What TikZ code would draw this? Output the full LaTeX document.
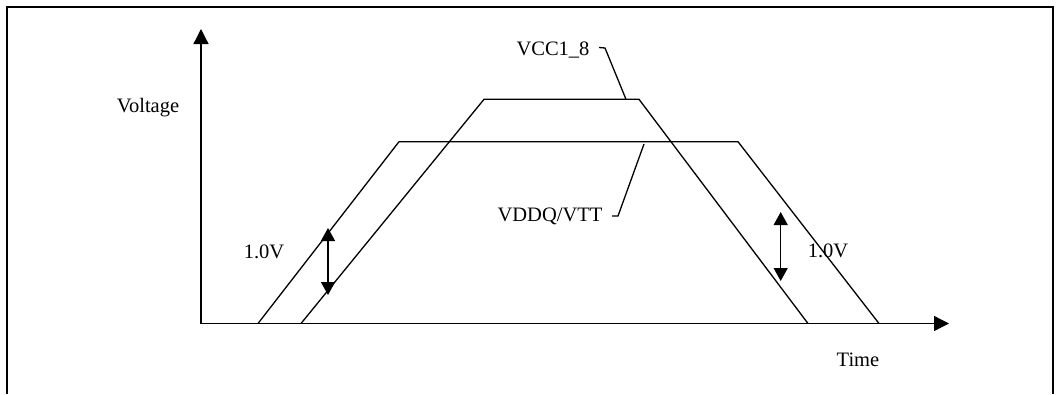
\documentclass[tikz,border=0pt]{standalone}
\usepackage{fontspec}
\setmainfont{Liberation Serif}
\usetikzlibrary{arrows.meta}
\begin{document}
\begin{tikzpicture}[x=1pt,y=-1pt,
  thinline/.style={line width=1.3pt,black},
  axisarrow/.style={thinline,-{Triangle[width=15pt,length=15pt]}},
  dblarrow/.style={thinline,{Triangle[width=14pt,length=13pt]}-{Triangle[width=14pt,length=13pt]}},
  lbl/.style={font=\fontsize{20.5}{23}\selectfont,inner sep=0pt}]
\useasboundingbox (0,0) rectangle (1060,394);
\fill[white] (0,0) rectangle (1060,394);
% frame
\draw[line width=2.4pt] (7,394) -- (7,7) -- (1053,7) -- (1053,394);
% axes
\coordinate (O) at (201,323.5);
\coordinate (ytip) at (201,29);
\coordinate (xtip) at (949,323.5);
\draw[axisarrow] (O) -- (ytip);
\draw[axisarrow] (O) -- (xtip);
% VDDQ/VTT trapezoid
\coordinate (d1) at (258,323.5);
\coordinate (d2) at (399,141.7);
\coordinate (d3) at (738,141.7);
\coordinate (d4) at (879,323.5);
\draw[thinline,line join=miter] (d1) -- (d2) -- (d3) -- (d4);
% VCC1_8 trapezoid
\coordinate (c1) at (301,323.5);
\coordinate (c2) at (484,99.3);
\coordinate (c3) at (639,99.3);
\coordinate (c4) at (808,323.5);
\draw[thinline,line join=miter] (c1) -- (c2) -- (c3) -- (c4);
% labels
\node[lbl] (volt) at (148,108) {Voltage};
\node[lbl] (time) at (858,360) {Time};
\node[lbl] (vcc) at (553,50) {VCC1\_8};
\node[lbl] (vddq) at (550,216) {VDDQ/VTT};
\node[lbl] (vl) at (264,252) {1.0V};
\node[lbl] (vr) at (828,251) {1.0V};
% leaders
\coordinate (l1a) at (599,47.5);
\coordinate (l1b) at (605,48);
\coordinate (l1c) at (626,99.3);
\draw[thinline] (l1a) -- (l1b) -- (l1c);
\coordinate (l2a) at (612,216);
\coordinate (l2b) at (618,216);
\coordinate (l2c) at (644,144);
\draw[thinline] (l2a) -- (l2b) -- (l2c);
% 1.0V double arrows
\coordinate (al1) at (328,228);
\coordinate (al2) at (328,295);
\draw[dblarrow] (al1) -- (al2);
\coordinate (ar1) at (780.7,212);
\coordinate (ar2) at (780.7,281);
\draw[dblarrow] (ar1) -- (ar2);
\end{tikzpicture}
\end{document}
